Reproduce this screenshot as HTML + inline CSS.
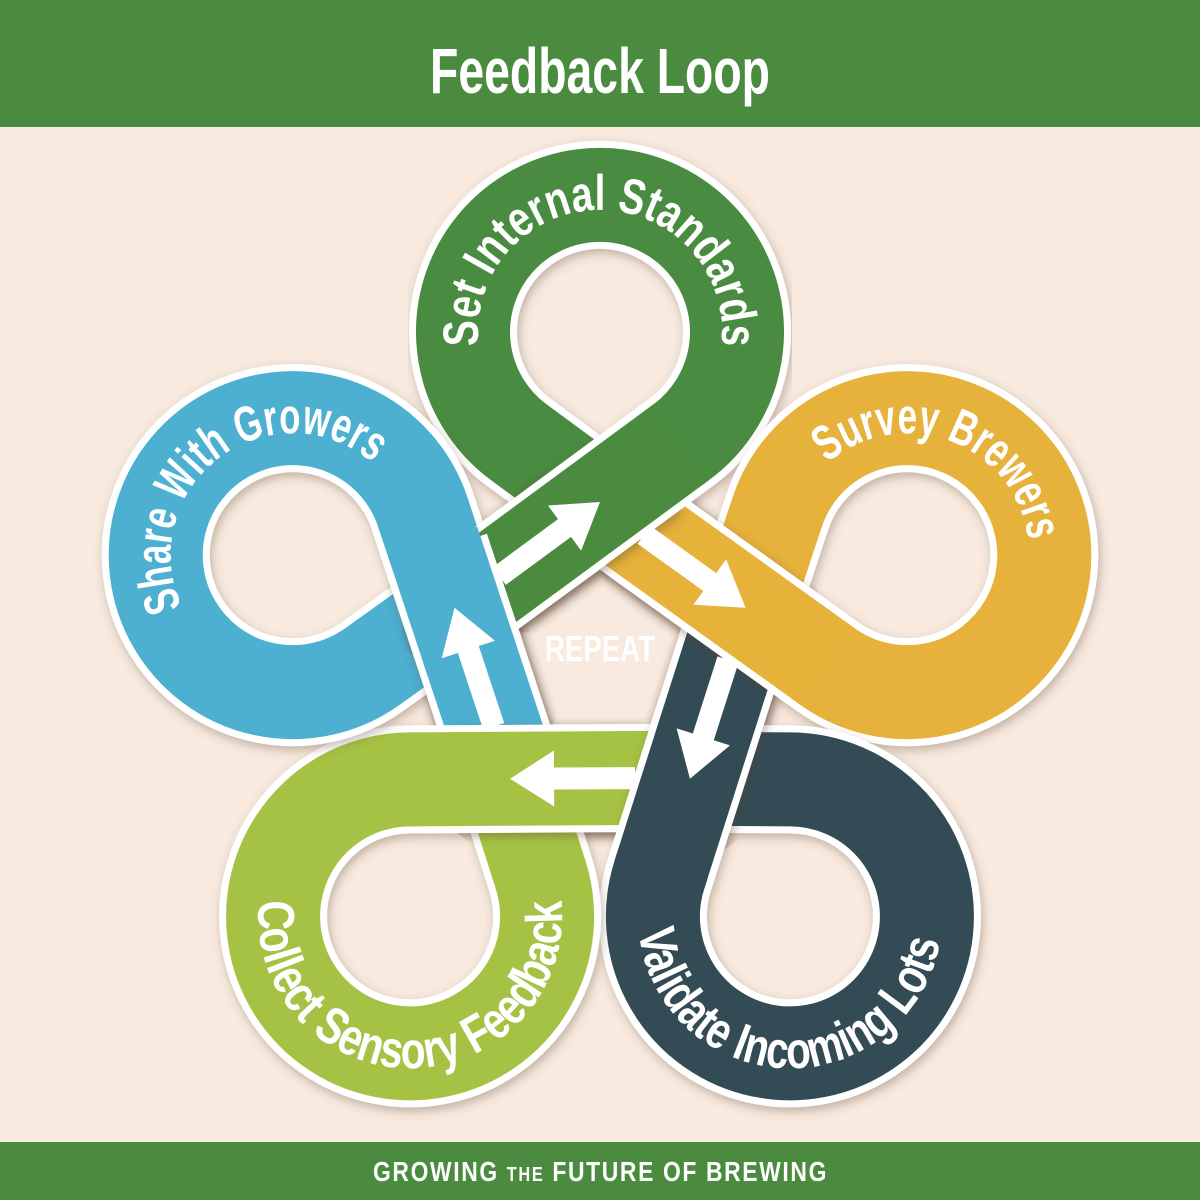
<!DOCTYPE html>
<html><head><meta charset="utf-8"><style>
html,body{margin:0;padding:0;background:#f8eadf;}
svg{display:block;}
.t{font-family:"Liberation Sans Narrow","Liberation Sans",sans-serif;font-weight:bold;fill:#fff;}
</style></head><body>
<svg width="1200" height="1200" viewBox="0 0 1200 1200" xmlns="http://www.w3.org/2000/svg">
<defs>
<filter id="sh" x="-20%" y="-20%" width="140%" height="140%">
<feDropShadow dx="2" dy="4" stdDeviation="5" flood-color="#5a4030" flood-opacity="0.35"/>
</filter>
<filter id="bl" x="-30%" y="-30%" width="160%" height="160%"><feGaussianBlur stdDeviation="5"/></filter>
<path id="full" d="M721,591 L600,502 L519,442.4 A137,137 0 1 1 681,442.4 L600,502 L479,591"/>
<path id="arm" d="M681,442.4 L479,591"/>
<path id="armw" d="M672.9,448.3 L479,591"/>
<path id="armsh" d="M648.4,466.5 L479,591"/>
<path id="part" d="M656.4,460.6 L555.7,534.6"/>
<path id="partw" d="M648.3,466.5 L563.8,528.7"/>
<path id="partsh" d="M640.3,472.4 L567.8,525.7"/>
<path id="tg" d="M578.8,452.1 A122,122 0 1 1 621.2,452.1"/>
<path id="ty" d="M844.4,659.8 A122,122 0 1 1 883.9,675.0"/>
<path id="tb" d="M348.2,663.9 A122,122 0 1 1 382.0,638.4"/>
<path id="tl" d="M383.7,766.6 A152,152 0 1 0 436.5,766.6"/>
<path id="td" d="M768.8,765.8 A152,152 0 1 0 821.5,767.6"/>
<polygon id="arrow" points="-125,-11 -44,-11 -44,-28 0,0 -44,28 -44,11 -125,11" fill="#fff"/>
</defs>
<rect x="0" y="0" width="1200" height="1200" fill="#f8eadf"/>
<rect x="0" y="0" width="1200" height="127" fill="#4a8b3f"/>
<rect x="0" y="1142" width="1200" height="58" fill="#4a8b3f"/>
<text x="600" y="93" text-anchor="middle" class="t" font-size="64" textLength="340" lengthAdjust="spacingAndGlyphs">Feedback Loop</text>
<text x="373" y="1181" class="t" font-size="28" textLength="455" lengthAdjust="spacingAndGlyphs" letter-spacing="2">GROWING <tspan font-size="20">THE</tspan> FUTURE OF BREWING</text>

<!-- full loops -->
<g filter="url(#sh)"><g transform="rotate(0 600 655)"><use href="#full" stroke="#fff" stroke-width="108" fill="none"/><use href="#full" stroke="#4a8b3f" stroke-width="94" fill="none"/></g></g>
<g filter="url(#sh)"><g transform="rotate(72 600 655)"><use href="#full" stroke="#fff" stroke-width="108" fill="none"/><use href="#full" stroke="#e6b23a" stroke-width="94" fill="none"/></g></g>
<g filter="url(#sh)"><g transform="rotate(144 600 655)"><use href="#full" stroke="#fff" stroke-width="108" fill="none"/><use href="#full" stroke="#324b55" stroke-width="94" fill="none"/></g></g>
<g filter="url(#sh)"><g transform="rotate(216 600 655)"><use href="#full" stroke="#fff" stroke-width="108" fill="none"/><use href="#full" stroke="#a6c244" stroke-width="94" fill="none"/></g></g>
<g filter="url(#sh)"><g transform="rotate(288 600 655)"><use href="#full" stroke="#fff" stroke-width="108" fill="none"/><use href="#full" stroke="#4db0d1" stroke-width="94" fill="none"/></g></g>

<!-- top arms, reverse order -->
<g transform="translate(2,4)"><g transform="rotate(288 600 655)"><use href="#armsh" stroke="#5a4030" stroke-opacity="0.4" stroke-width="108" fill="none" filter="url(#bl)"/></g></g>
<g transform="rotate(288 600 655)"><use href="#armw" stroke="#fff" stroke-width="108" fill="none"/><use href="#arm" stroke="#4db0d1" stroke-width="94" fill="none"/></g>

<g transform="translate(2,4)"><g transform="rotate(216 600 655)"><use href="#armsh" stroke="#5a4030" stroke-opacity="0.4" stroke-width="108" fill="none" filter="url(#bl)"/></g></g>
<g transform="rotate(216 600 655)"><use href="#armw" stroke="#fff" stroke-width="108" fill="none"/><use href="#arm" stroke="#a6c244" stroke-width="94" fill="none"/></g>

<g transform="translate(2,4)"><g transform="rotate(144 600 655)"><use href="#armsh" stroke="#5a4030" stroke-opacity="0.4" stroke-width="108" fill="none" filter="url(#bl)"/></g></g>
<g transform="rotate(144 600 655)"><use href="#armw" stroke="#fff" stroke-width="108" fill="none"/><use href="#arm" stroke="#324b55" stroke-width="94" fill="none"/></g>

<g transform="translate(2,4)"><g transform="rotate(72 600 655)"><use href="#armsh" stroke="#5a4030" stroke-opacity="0.4" stroke-width="108" fill="none" filter="url(#bl)"/></g></g>
<g transform="rotate(72 600 655)"><use href="#armw" stroke="#fff" stroke-width="108" fill="none"/><use href="#arm" stroke="#e6b23a" stroke-width="94" fill="none"/></g>

<g transform="translate(2,4)"><g transform="rotate(0 600 655)"><use href="#armsh" stroke="#5a4030" stroke-opacity="0.4" stroke-width="108" fill="none" filter="url(#bl)"/></g></g>
<g transform="rotate(0 600 655)"><use href="#armw" stroke="#fff" stroke-width="108" fill="none"/><use href="#arm" stroke="#4a8b3f" stroke-width="94" fill="none"/></g>

<!-- blue partial redraw -->
<g transform="translate(2,4)"><g transform="rotate(288 600 655)"><use href="#partsh" stroke="#5a4030" stroke-opacity="0.4" stroke-width="108" fill="none" filter="url(#bl)"/></g></g>
<g transform="rotate(288 600 655)"><use href="#partw" stroke="#fff" stroke-width="108" fill="none"/><use href="#part" stroke="#4db0d1" stroke-width="94" fill="none"/></g>

<!-- arrows -->
<g transform="rotate(0 600 655)"><use href="#arrow" transform="translate(600,502) rotate(-36.3)"/></g>
<g transform="rotate(72 600 655)"><use href="#arrow" transform="translate(600,502) rotate(-36.3)"/></g>
<g transform="rotate(144 600 655)"><use href="#arrow" transform="translate(600,502) rotate(-36.3)"/></g>
<g transform="rotate(216 600 655)"><use href="#arrow" transform="translate(600,502) rotate(-36.3)"/></g>
<g transform="rotate(288 600 655)"><use href="#arrow" transform="translate(600,502) rotate(-36.3)"/></g>

<text x="600" y="661" text-anchor="middle" class="t" font-size="36" textLength="110" lengthAdjust="spacingAndGlyphs">REPEAT</text>

<text class="t" font-size="50"><textPath href="#tg" startOffset="50%" text-anchor="middle" textLength="411" lengthAdjust="spacingAndGlyphs">Set Internal Standards</textPath></text>
<text class="t" font-size="50"><textPath href="#ty" startOffset="50%" text-anchor="middle" textLength="264" lengthAdjust="spacingAndGlyphs">Survey Brewers</textPath></text>
<text class="t" font-size="50"><textPath href="#tb" startOffset="50%" text-anchor="middle" textLength="332" lengthAdjust="spacingAndGlyphs">Share With Growers</textPath></text>
<text class="t" font-size="52"><textPath href="#tl" startOffset="50%" text-anchor="middle" textLength="509" lengthAdjust="spacingAndGlyphs">Collect Sensory Feedback</textPath></text>
<text class="t" font-size="52"><textPath href="#td" startOffset="50%" text-anchor="middle" textLength="438" lengthAdjust="spacingAndGlyphs">Validate Incoming Lots</textPath></text>
</svg>
</body></html>
